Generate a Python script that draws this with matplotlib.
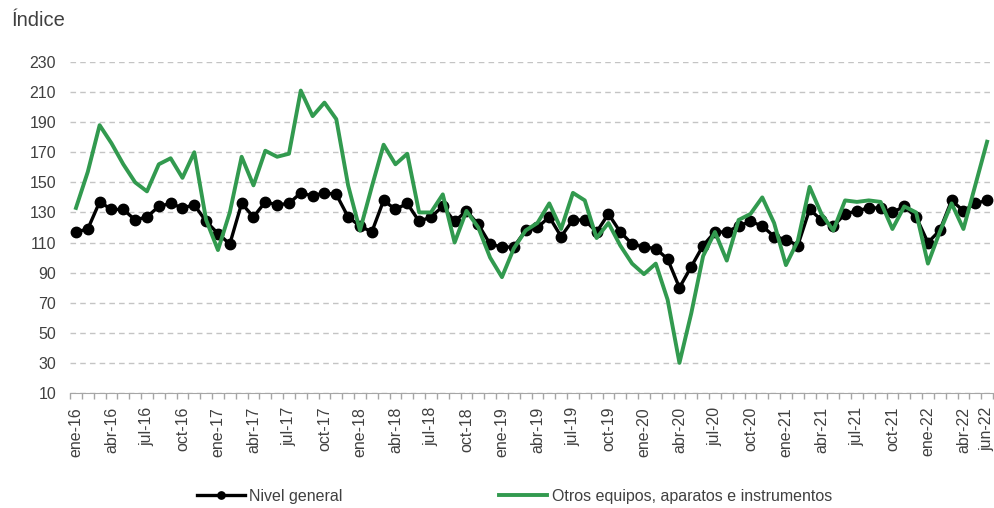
import matplotlib
matplotlib.use("Agg")
import matplotlib.pyplot as plt
import numpy as np

MESES = ["ene", "feb", "mar", "abr", "may", "jun",
         "jul", "ago", "sep", "oct", "nov", "dic"]
fechas = [f"{MESES[m]}-{a}" for a in range(16, 23) for m in range(12)][:78]

# índice de producción, ene-16 a jun-22
nivel_general = [
    117, 119, 137, 132, 132, 125, 127, 134, 136, 133, 135, 124,
    116, 109, 136, 127, 137, 135, 136, 143, 141, 143, 142, 127,
    121, 117, 138, 132, 136, 124, 127, 134, 124, 131, 122, 109,
    107, 107, 118, 120, 127, 114, 125, 125, 117, 129, 117, 109,
    107, 106, 99, 80, 94, 108, 117, 117, 121, 124, 121, 114,
    112, 108, 132, 125, 121, 129, 131, 133, 133, 130, 134, 127,
    110, 118, 138, 131, 136, 138,
]
otros_equipos = [
    133, 157, 188, 176, 162, 150, 144, 162, 166, 153, 170, 125,
    105, 130, 167, 148, 171, 167, 169, 211, 194, 203, 192, 148,
    118, 147, 175, 162, 169, 130, 130, 142, 110, 131, 120, 100,
    87, 106, 118, 123, 136, 119, 143, 138, 113, 123, 108, 96,
    89, 96, 72, 30, 63, 101, 117, 98, 125, 129, 140, 123,
    95, 111, 147, 129, 118, 138, 137, 138, 137, 119, 134, 130,
    96, 117, 136, 119, 148, 177,
]
etiquetas_idx = list(range(0, 78, 3)) + [77]

TXT = "#404040"
plt.rcParams["font.family"] = ["Liberation Sans", "DejaVu Sans"]

fig = plt.figure(figsize=(9.95, 5.08), dpi=100)
ax = fig.add_axes([0.0704, 0.2264, 0.9276, 0.6516])

x = np.arange(len(fechas))
ax.plot(x, nivel_general, color="black", lw=2.4, marker="o", ms=7.5,
        label="Nivel general", zorder=3)
ax.plot(x, otros_equipos, color="#329A4F", lw=2.8,
        label="Otros equipos, aparatos e instrumentos", zorder=4)

ax.set_ylim(10, 230)
ax.set_yticks(np.arange(10, 231, 20))
ax.set_xlim(-0.5, len(fechas) - 0.5)
ax.set_xticks(etiquetas_idx)
ax.set_xticklabels([fechas[i] for i in etiquetas_idx], rotation=90)
ax.set_xticks(np.arange(len(fechas) + 1) - 0.5, minor=True)
ax.tick_params(axis="x", which="major", length=0, pad=10,
               labelsize=11.5, labelcolor=TXT)
ax.tick_params(axis="x", which="minor", length=4, color="#a6a6a6", width=1)
ax.tick_params(axis="y", length=0, pad=10, labelsize=11.5, labelcolor=TXT)

ax.grid(axis="y", color="#c4c4c4", ls=(0, (4, 3)), lw=1)
ax.set_axisbelow(True)
for lado in ["top", "right", "left"]:
    ax.spines[lado].set_visible(False)
ax.spines["bottom"].set_color("#a6a6a6")
ax.spines["bottom"].set_zorder(1)

fig.text(0.012, 0.96, "Índice", fontsize=14.5, color=TXT, va="center")

fig.legend(loc="lower center", bbox_to_anchor=(0.517, -0.02), ncol=2,
           frameon=False, fontsize=11.5, handlelength=3.0, columnspacing=9.8,
           handletextpad=0.3, labelcolor=TXT, markerscale=0.7)

plt.savefig("out.png", dpi=100)
